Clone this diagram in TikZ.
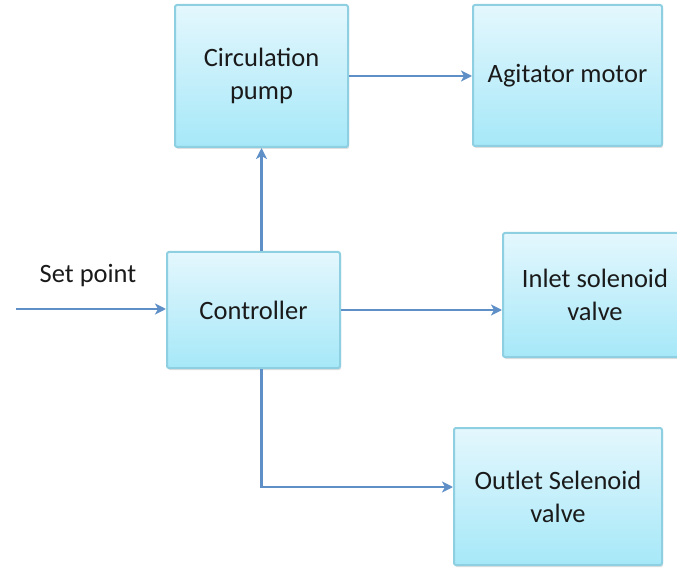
\documentclass[tikz,border=0pt]{standalone}
\usepackage{fontspec}
\setmainfont{Carlito}
\usetikzlibrary{arrows.meta,shadows}
\definecolor{boxtop}{HTML}{E4F7FD}
\definecolor{boxbot}{HTML}{A6E8F8}
\definecolor{boxline}{HTML}{8ECFE2}
\definecolor{arrowc}{HTML}{5E8FC6}
\definecolor{txt}{HTML}{1A1A1A}
\tikzset{
  blockbox/.style={draw=boxline, line width=2pt, rounded corners=2pt,
    top color=boxtop, bottom color=boxbot, align=center, text=txt,
    font=\fontsize{26.5}{33}\selectfont, inner sep=0pt,
    drop shadow={shadow xshift=1pt, shadow yshift=-2pt, opacity=0.25, fill=gray}},
  conn/.style={draw=arrowc, line width=2.6pt,
    -{Stealth[length=11pt,width=11pt,inset=3pt]}},
  lbl/.style={text=txt, font=\fontsize{26.5}{33}\selectfont, inner sep=0pt}
}
\begin{document}
\begin{tikzpicture}[x=1pt,y=-1pt]
\useasboundingbox (0,0) rectangle (677,569);
\node[blockbox, minimum width=173pt, minimum height=142pt] (pump) at (261.5,76) {Circulation\\pump};
\node[blockbox, minimum width=189pt, minimum height=141pt] (agit) at (567.5,75.5) {Agitator motor};
\node[blockbox, minimum width=173pt, minimum height=116pt] (ctrl) at (253.5,310) {Controller};
\node[blockbox, minimum width=184pt, minimum height=124pt] (inlet) at (595,295) {Inlet solenoid\\valve};
\node[blockbox, minimum width=208pt, minimum height=137pt] (outlet) at (558,496.5) {Outlet Selenoid\\valve};
\node[lbl] (sp) at (88,276) {Set point};
\coordinate (spin) at (16,309);
\draw[conn] (spin) -- (spin -| ctrl.west);
\draw[conn] (ctrl.north -| pump.south) -- (pump.south);
\draw[conn] (pump.east) -- (pump.east -| agit.west);
\draw[conn] (ctrl.east) -- (ctrl.east -| inlet.west);
\draw[conn] (ctrl.south -| pump.south) |- ([yshift=9.5pt]outlet.west);
\end{tikzpicture}
\end{document}
